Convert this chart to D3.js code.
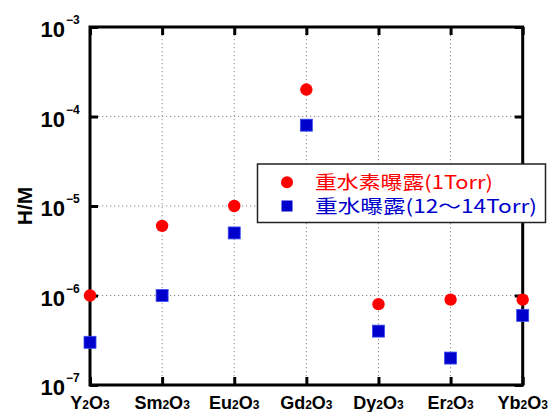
<!DOCTYPE html>
<html><head><meta charset="utf-8">
<script src="https://cdn.jsdelivr.net/npm/d3@7"></script>
<style>
html,body{margin:0;padding:0;background:#fff;}
svg{display:block;}
</style></head>
<body>
<svg id="chart" width="549" height="412"></svg>
<script>
const categories = ["Y2O3","Sm2O3","Eu2O3","Gd2O3","Dy2O3","Er2O3","Yb2O3"];
const d2Values = [1e-6, 6e-6, 1e-5, 2e-4, 8e-7, 9e-7, 9e-7];
const d2oValues = [3e-7, 1e-6, 5e-6, 8e-5, 4e-7, 2e-7, 6e-7];
const yTicks = [1e-7, 1e-6, 1e-5, 1e-4, 1e-3];
const yTickExp = ["−7","−6","−5","−4","−3"];
const seriesNames = ["重水素曝露(1Torr)", "重水曝露(12～14Torr)"];
const seriesColors = ["#ff0000", "#0000cc"];
const yTitle = "H/M";

const svg = d3.select("#chart");
const L = 90, R = 522.7, T = 27, B = 385;
const x = d3.scalePoint().domain(categories).range([L, R]).padding(0);
const y = d3.scaleLog().domain([1e-7, 1e-3]).range([B, T]);

// grid
const grid = svg.append("g");
grid.selectAll("line.v").data(categories.slice(1, -1)).enter().append("line")
  .attr("x1", d => x(d)).attr("x2", d => x(d)).attr("y1", T).attr("y2", B)
  .attr("stroke", "#888").attr("stroke-width", 1).attr("stroke-dasharray", "1.2,2.8");
grid.selectAll("line.h").data(yTicks.slice(1, -1)).enter().append("line")
  .attr("x1", L).attr("x2", R).attr("y1", d => y(d)).attr("y2", d => y(d))
  .attr("stroke", "#888").attr("stroke-width", 1).attr("stroke-dasharray", "1.2,2.8");

// axes via d3 axes (inward ticks)
const tl = 8;
function styleAxis(g){
  g.select(".domain").remove();
  g.selectAll(".tick line").attr("stroke", "#000").attr("stroke-width", 3);
  g.selectAll(".tick text").remove();
}
svg.append("g").attr("transform", `translate(0,${B})`)
  .call(d3.axisBottom(x).tickSize(-tl).tickSizeOuter(0)).call(styleAxis);
svg.append("g").attr("transform", `translate(0,${T})`)
  .call(d3.axisTop(x).tickSize(-tl).tickSizeOuter(0)).call(styleAxis);
svg.append("g").attr("transform", `translate(${L},0)`)
  .call(d3.axisLeft(y).tickValues(yTicks).tickSize(-tl).tickSizeOuter(0)).call(styleAxis);
svg.append("g").attr("transform", `translate(${R},0)`)
  .call(d3.axisRight(y).tickValues(yTicks).tickSize(-tl).tickSizeOuter(0)).call(styleAxis);

// frame
svg.append("rect").attr("x", L).attr("y", T).attr("width", R - L).attr("height", B - T)
  .attr("fill", "none").attr("stroke", "#000").attr("stroke-width", 3);

// y tick labels
const yl = svg.append("g").attr("font-family", "'Liberation Sans', Arial, sans-serif")
  .attr("font-weight", "bold").attr("fill", "#000");
yTicks.forEach((v, i) => {
  yl.append("text").attr("x", 65).attr("y", y(v) + 10)
    .attr("text-anchor", "end").attr("font-size", 22).text("10");
  yl.append("text").attr("x", 66).attr("y", y(v) - 3)
    .attr("text-anchor", "start").attr("font-size", 12).text(yTickExp[i]);
});

// x labels
const xl = svg.append("g").attr("font-family", "'Liberation Sans', Arial, sans-serif")
  .attr("font-weight", "bold").attr("fill", "#000");
categories.forEach(c => {
  const t = xl.append("text").attr("x", x(c)).attr("y", 408.5).attr("text-anchor", "middle").attr("font-size", 18);
  c.split(/(\d)/).filter(s => s.length).forEach(s => {
    if (/\d/.test(s)) t.append("tspan").attr("font-size", 12).text(s);
    else t.append("tspan").text(s);
  });
});

// y title
svg.append("text").attr("transform", `translate(32,206) rotate(-90)`)
  .attr("text-anchor", "middle").attr("font-family", "'Liberation Sans', Arial, sans-serif")
  .attr("font-weight", "bold").attr("font-size", 21).text(yTitle);

// data
const pts = svg.append("g");
pts.selectAll("rect.d2o").data(categories.map((c, i) => ({c, v: d2oValues[i]}))).enter().append("rect")
  .attr("x", d => x(d.c) - 6).attr("y", d => y(d.v) - 6).attr("width", 12).attr("height", 12)
  .attr("fill", seriesColors[1]).attr("stroke", "#3a4cf0").attr("stroke-width", 0.8);
pts.selectAll("circle.d2").data(categories.map((c, i) => ({c, v: d2Values[i]}))).enter().append("circle")
  .attr("cx", d => x(d.c)).attr("cy", d => y(d.v)).attr("r", 6.2)
  .attr("fill", seriesColors[0]);

// legend
const lg = svg.append("g");
lg.append("rect").attr("x", 257.5).attr("y", 164).attr("width", 288).attr("height", 58.5)
  .attr("fill", "#fff").attr("stroke", "#222").attr("stroke-width", 1.5);
lg.append("circle").attr("cx", 287).attr("cy", 182.3).attr("r", 6).attr("fill", seriesColors[0]);
lg.append("rect").attr("x", 281.5).attr("y", 200.5).attr("width", 11).attr("height", 11).attr("fill", seriesColors[1]);
const widths = [178, 222];
seriesNames.forEach((n, i) => {
  lg.append("text").attr("x", 315).attr("y", [189, 213][i])
    .attr("font-family", "'Noto Sans CJK JP', sans-serif").attr("font-size", 18.5)
    .attr("fill", seriesColors[i]).attr("textLength", widths[i]).attr("lengthAdjust", "spacingAndGlyphs")
    .text(n);
});
</script>
</body></html>
